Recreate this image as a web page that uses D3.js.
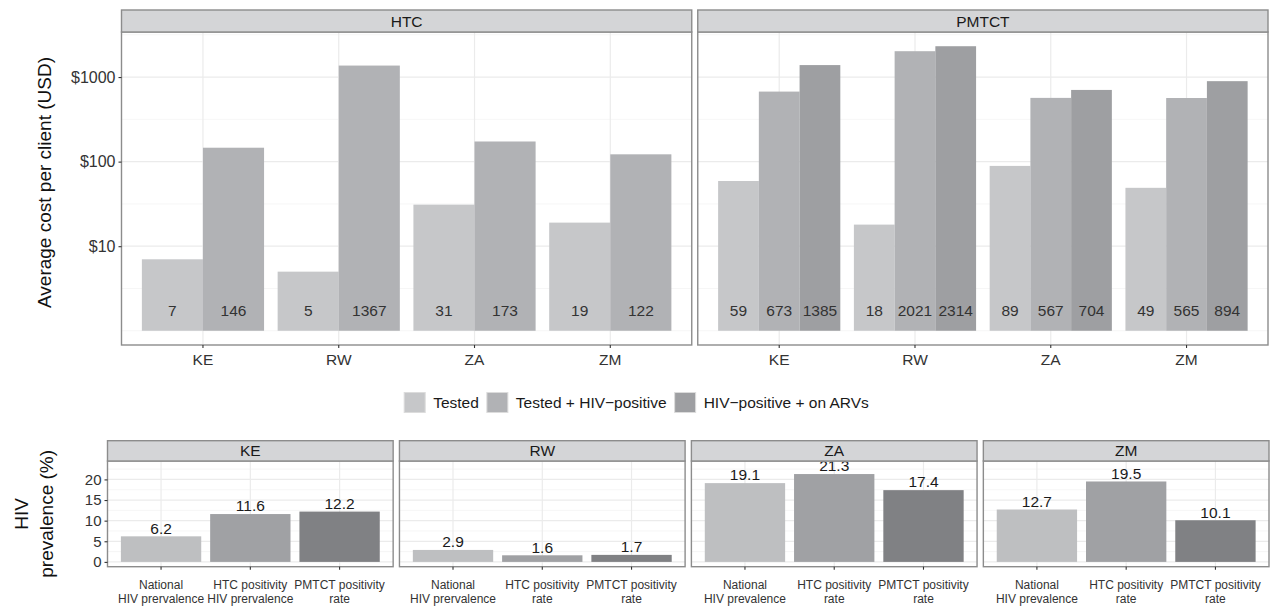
<!DOCTYPE html>
<html lang="en">
<head>
<meta charset="UTF-8">
<title>Cost per client and HIV prevalence</title>
<script src="https://d3js.org/d3.v7.min.js"></script>
<style>
  body { margin: 0; background: #fff; }
  text { font-family: "Liberation Sans", Arial, sans-serif; }
</style>
</head>
<body>
<svg width="1273" height="608"></svg>
<script>
// ---- data ----
const countries = ["KE", "RW", "ZA", "ZM"];
const costSeries = ["Tested", "Tested + HIV\u2212positive", "HIV\u2212positive + on ARVs"];
const htcTested = [7, 5, 31, 19];
const htcPositive = [146, 1367, 173, 122];
const pmtctTested = [59, 18, 89, 49];
const pmtctPositive = [673, 2021, 567, 565];
const pmtctOnArv = [1385, 2314, 704, 894];
const costTicks = [10, 100, 1000];

const prevKE = [6.2, 11.6, 12.2];
const prevRW = [2.9, 1.6, 1.7];
const prevZA = [19.1, 21.3, 17.4];
const prevZM = [12.7, 19.5, 10.1];
const labelsKE = ["National\nHIV prervalence", "HTC positivity\nHIV prervalence", "PMTCT positivity\nrate"];
const labelsRW = ["National\nHIV prervalence", "HTC positivity\nrate", "PMTCT positivity\nrate"];
const labelsZA = ["National\nHIV prevalence", "HTC positivity\nrate", "PMTCT positivity\nrate"];
const labelsZM = ["National\nHIV prevalence", "HTC positivity\nrate", "PMTCT positivity\nrate"];
const prevTicks = [0, 5, 10, 15, 20];

// ---- styling ----
const costColors = ["#c6c7c9", "#b1b2b5", "#9e9fa2"];
const prevColors = ["#bebfc1", "#a0a1a4", "#808184"];
const borderCol = "#8c8c8c";
const stripFill = "#d4d5d7";
const gridMajor = "#ebebeb";
const gridMinor = "#f4f4f4";
const textCol = "#333";

const svg = d3.select("svg");

// strip + frame helper
function drawStrip(x0, x1, yTop, yBot, title, fs) {
    svg.append("rect")
        .attr("x", x0).attr("y", yTop)
        .attr("width", x1 - x0).attr("height", yBot - yTop)
        .attr("fill", stripFill).attr("stroke", borderCol).attr("stroke-width", 1.4);
    svg.append("text")
        .attr("x", (x0 + x1) / 2).attr("y", (yTop + yBot) / 2)
        .attr("dy", "0.36em").attr("text-anchor", "middle")
        .attr("font-size", fs).attr("fill", "#1a1a1a")
        .text(title);
}
function drawBorder(x0, x1, yTop, yBot) {
    svg.append("rect")
        .attr("x", x0).attr("y", yTop)
        .attr("width", x1 - x0).attr("height", yBot - yTop)
        .attr("fill", "none").attr("stroke", borderCol).attr("stroke-width", 1.4);
}
function styleAxis(g, fs) {
    g.select(".domain").remove();
    g.selectAll(".tick line").attr("stroke", "#333").attr("stroke-width", 1.1);
    g.selectAll(".tick text").attr("fill", textCol).attr("font-size", fs)
        .attr("font-family", "Liberation Sans, Arial, sans-serif");
}

// ================= top: average cost per client =================
const costL = {y0: 32, y1: 345, strip: 10, left: 121.5, right: 1268, gap: 6};
const costW = (costL.right - costL.left - costL.gap) / 2;

const costPanels = [
    {title: "HTC", series: [htcTested, htcPositive]},
    {title: "PMTCT", series: [pmtctTested, pmtctPositive, pmtctOnArv]}
];

const logMax = Math.log10(d3.max(costPanels.flatMap(p => p.series.flat())));
const logPad = 0.05 * logMax;
const yCost = d3.scaleLog()
    .domain([Math.pow(10, -logPad), Math.pow(10, logMax + logPad)])
    .range([costL.y1, costL.y0]);
const costMinor = [1, Math.pow(10, 0.5), Math.pow(10, 1.5), Math.pow(10, 2.5), Math.pow(10, 3.5)]
    .filter(v => v >= yCost.domain()[0] && v <= yCost.domain()[1]);

costPanels.forEach((p, pi) => {
    const x0 = costL.left + pi * (costW + costL.gap);
    const x1 = x0 + costW;
    const x = d3.scaleBand().domain(countries).range([x0, x1])
        .paddingInner(0).paddingOuter(0.1);
    const step = x.step();
    const xs = d3.scaleBand().domain(d3.range(p.series.length))
        .range([0.05 * step, 0.95 * step]);

    const g = svg.append("g");
    g.selectAll(".minor").data(costMinor).join("line")
        .attr("x1", x0).attr("x2", x1)
        .attr("y1", d => yCost(d)).attr("y2", d => yCost(d))
        .attr("stroke", gridMinor).attr("stroke-width", 0.8);
    g.selectAll(".major").data(costTicks).join("line")
        .attr("x1", x0).attr("x2", x1)
        .attr("y1", d => yCost(d)).attr("y2", d => yCost(d))
        .attr("stroke", gridMajor).attr("stroke-width", 1.2);
    g.selectAll(".vgrid").data(countries).join("line")
        .attr("x1", d => x(d) + step / 2).attr("x2", d => x(d) + step / 2)
        .attr("y1", costL.y0).attr("y2", costL.y1)
        .attr("stroke", gridMajor).attr("stroke-width", 1.2);

    p.series.forEach((vals, si) => {
        const bars = countries.map((c, ci) => ({c, v: vals[ci]}));
        g.selectAll(null).data(bars).join("rect")
            .attr("x", d => x(d.c) + xs(si))
            .attr("width", xs.bandwidth())
            .attr("y", d => yCost(d.v))
            .attr("height", d => yCost(1) - yCost(d.v))
            .attr("fill", costColors[si]);
        g.selectAll(null).data(bars).join("text")
            .attr("x", d => x(d.c) + xs(si) + xs.bandwidth() / 2)
            .attr("y", yCost(1.75)).attr("dy", "0.36em")
            .attr("text-anchor", "middle").attr("font-size", 15.5).attr("fill", textCol)
            .text(d => d.v);
    });

    drawBorder(x0, x1, costL.y0, costL.y1);
    drawStrip(x0, x1, costL.strip, costL.y0, p.title, 15.5);

    const ax = svg.append("g").attr("transform", `translate(0,${costL.y1})`)
        .call(d3.axisBottom(x).tickSize(3).tickPadding(6));
    styleAxis(ax, 15.5);

    if (pi === 0) {
        const ay = svg.append("g").attr("transform", `translate(${x0},0)`)
            .call(d3.axisLeft(yCost).tickValues(costTicks).tickFormat(d => "$" + d)
                .tickSize(3).tickPadding(3));
        styleAxis(ay, 16);
    }
});

svg.append("text")
    .attr("transform", `translate(44,${(costL.y0 + costL.y1) / 2 - 6}) rotate(-90)`)
    .attr("text-anchor", "middle").attr("dy", "0.36em")
    .attr("font-size", 19).attr("fill", "#111")
    .text("Average cost per client (USD)");

// ================= legend =================
const legend = svg.append("g");
const legendY = 402.5;
let lx = 0;
costSeries.forEach((s, i) => {
    legend.append("rect")
        .attr("x", lx).attr("y", legendY - 10).attr("width", 21).attr("height", 20)
        .attr("fill", costColors[i]).attr("stroke", "#dcdcdc").attr("stroke-width", 1);
    const t = legend.append("text")
        .attr("x", lx + 29).attr("y", legendY).attr("dy", "0.36em")
        .attr("font-size", 15.5).attr("fill", "#1a1a1a").text(s);
    lx += 29 + t.node().getComputedTextLength() + 8;
});
legend.attr("transform", `translate(${(1273 - (lx - 8)) / 2},0)`);

// ================= bottom: HIV prevalence =================
const prevL = {y0: 461, y1: 566.7, strip: 440.7, left: 107.5, right: 1269, gap: 6.3};
const prevW = (prevL.right - prevL.left - 3 * prevL.gap) / 4;
const prevPanels = [
    {title: "KE", values: prevKE, labels: labelsKE},
    {title: "RW", values: prevRW, labels: labelsRW},
    {title: "ZA", values: prevZA, labels: labelsZA},
    {title: "ZM", values: prevZM, labels: labelsZM}
];
const labelLift = 2.0;
const prevMax = d3.max(prevPanels.flatMap(p => p.values)) + labelLift;
const yPrev = d3.scaleLinear()
    .domain([-0.05 * prevMax, 1.05 * prevMax])
    .range([prevL.y1, prevL.y0]);
const prevMinor = [2.5, 7.5, 12.5, 17.5, 22.5];

prevPanels.forEach((p, pi) => {
    const x0 = prevL.left + pi * (prevW + prevL.gap);
    const x1 = x0 + prevW;
    const idx = d3.range(p.values.length);
    const x = d3.scaleBand().domain(idx).range([x0, x1])
        .paddingInner(0).paddingOuter(0.1);
    const step = x.step();

    const g = svg.append("g");
    g.selectAll(".minor").data(prevMinor).join("line")
        .attr("x1", x0).attr("x2", x1)
        .attr("y1", d => yPrev(d)).attr("y2", d => yPrev(d))
        .attr("stroke", gridMinor).attr("stroke-width", 0.8);
    g.selectAll(".major").data(prevTicks).join("line")
        .attr("x1", x0).attr("x2", x1)
        .attr("y1", d => yPrev(d)).attr("y2", d => yPrev(d))
        .attr("stroke", gridMajor).attr("stroke-width", 1.2);
    g.selectAll(".vgrid").data(idx).join("line")
        .attr("x1", d => x(d) + step / 2).attr("x2", d => x(d) + step / 2)
        .attr("y1", prevL.y0).attr("y2", prevL.y1)
        .attr("stroke", gridMajor).attr("stroke-width", 1.2);

    g.selectAll(null).data(idx).join("rect")
        .attr("x", d => x(d) + 0.05 * step)
        .attr("width", 0.9 * step)
        .attr("y", d => yPrev(p.values[d]))
        .attr("height", d => yPrev(0) - yPrev(p.values[d]))
        .attr("fill", d => prevColors[d]);
    g.selectAll(null).data(idx).join("text")
        .attr("x", d => x(d) + step / 2)
        .attr("y", d => yPrev(p.values[d] + labelLift)).attr("dy", "0.36em")
        .attr("text-anchor", "middle").attr("font-size", 15.5).attr("fill", "#1a1a1a")
        .text(d => p.values[d].toFixed(1));

    drawBorder(x0, x1, prevL.y0, prevL.y1);
    drawStrip(x0, x1, prevL.strip, prevL.y0, p.title, 15.5);

    // x ticks with two-line labels
    const ax = svg.append("g").attr("transform", `translate(0,${prevL.y1})`)
        .call(d3.axisBottom(x).tickSize(3).tickFormat(""));
    styleAxis(ax, 12);
    idx.forEach(i => {
        const t = svg.append("text")
            .attr("text-anchor", "middle").attr("font-size", 12).attr("fill", textCol);
        p.labels[i].split("\n").forEach((line, li) => {
            t.append("tspan")
                .attr("x", x(i) + step / 2).attr("y", 589 + li * 14)
                .text(line);
        });
    });

    if (pi === 0) {
        const ay = svg.append("g").attr("transform", `translate(${x0},0)`)
            .call(d3.axisLeft(yPrev).tickValues(prevTicks).tickSize(3).tickPadding(3));
        styleAxis(ay, 15);
    }
});

const prevTitle = svg.append("text")
    .attr("transform", `translate(0,${(prevL.y0 + prevL.y1) / 2}) rotate(-90)`)
    .attr("text-anchor", "middle").attr("font-size", 19).attr("fill", "#111");
prevTitle.append("tspan").attr("x", 0).attr("y", 21).attr("dy", "0.36em").text("HIV");
prevTitle.append("tspan").attr("x", 0).attr("y", 46).attr("dy", "0.36em").text("prevalence (%)");
</script>
</body>
</html>
